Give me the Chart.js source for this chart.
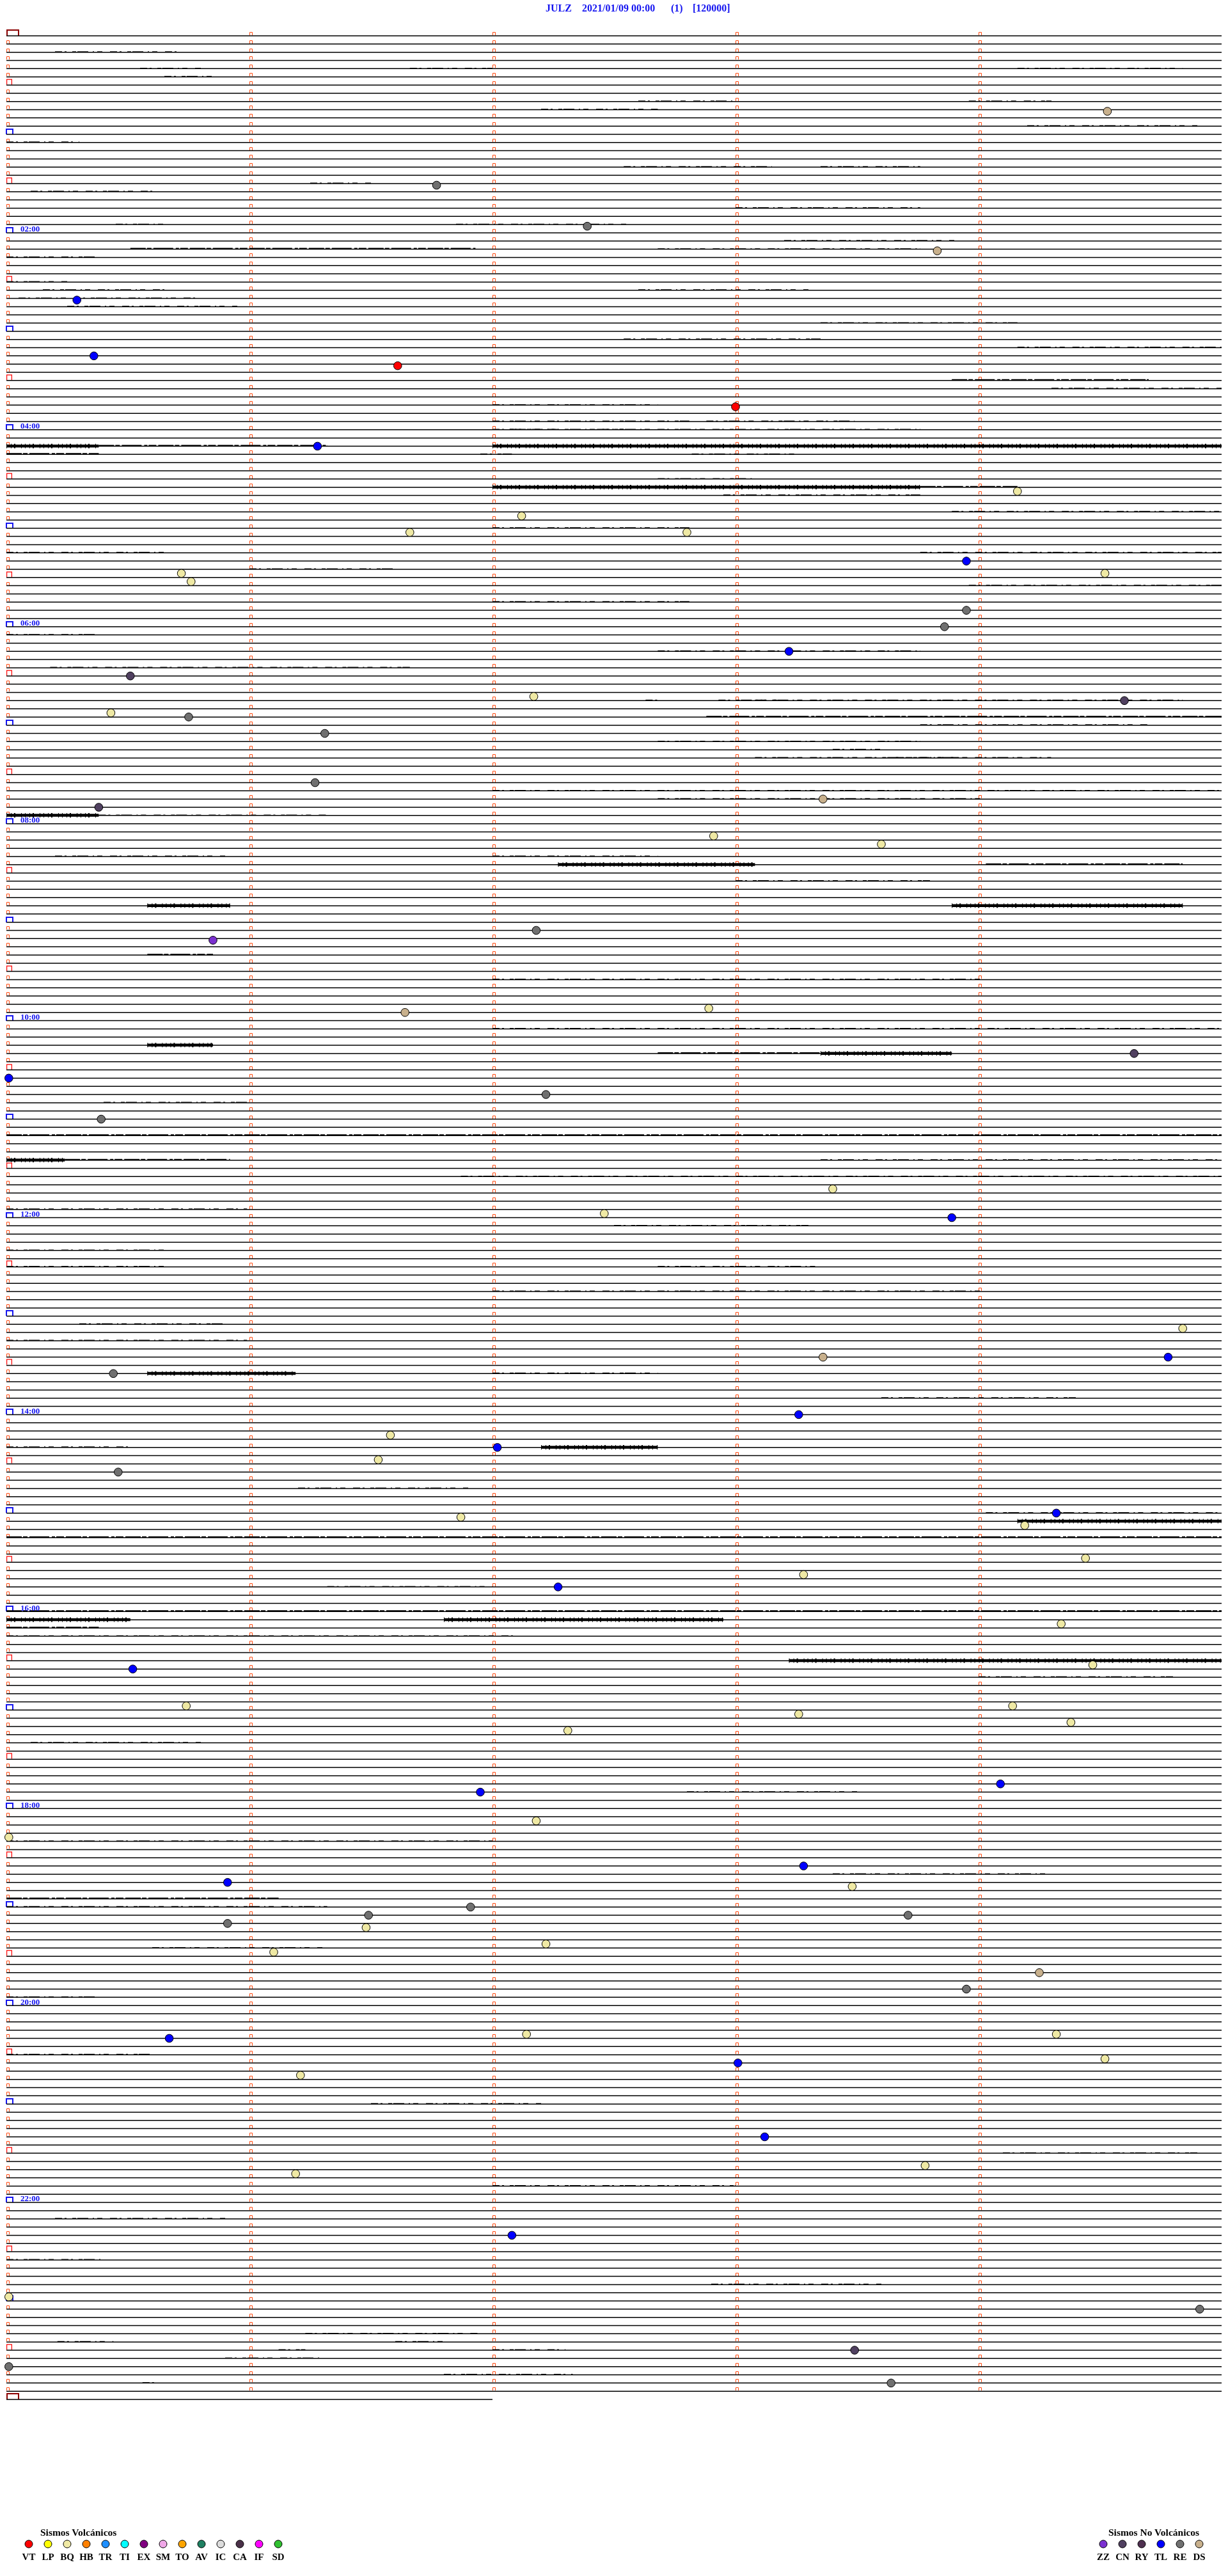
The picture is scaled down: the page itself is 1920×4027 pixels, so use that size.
<!DOCTYPE html>
<html>
<head>
<meta charset="utf-8">
<script src="https://cdn.jsdelivr.net/npm/chart.js@4.4.1/dist/chart.umd.min.js"></script>
<style>
html,body{margin:0;padding:0;background:#fff;}
body{width:1920px;height:4027px;position:relative;overflow:hidden;font-family:"Liberation Serif","Times New Roman",serif;}
#c{position:absolute;left:0;top:0;}
.t{position:absolute;top:5px;color:#1515f0;font-weight:bold;font-size:16px;line-height:16px;white-space:pre;}
.hl{position:absolute;left:32px;color:#1515f0;font-weight:bold;font-size:13px;line-height:13px;white-space:pre;}
.lh{position:absolute;color:#000;font-weight:bold;font-size:15.5px;line-height:15px;white-space:pre;}
.lb{position:absolute;color:#000;font-weight:bold;font-size:15px;line-height:15px;white-space:pre;transform:translateX(-50%);}
.dot{position:absolute;width:11px;height:11px;border:1px solid #000;border-radius:50%;transform:translate(-50%,-50%);}
</style>
</head>
<body>
<canvas id="c" width="1920" height="4027"></canvas>
<div id="overlay"></div>
<script>
// ---------------- DATA ----------------
const titleParts = ["JULZ", "2021/01/09 00:00", "(1)", "[120000]"];
const fullRows = 288;            // 24 h x 12 rows (5 minutes per row)
const minutesPerRow = 5;
const lastRowMinutes = 2;        // partial final row
const minuteMarks = [0, 1, 2, 3, 4];
const hourLabelRows = [24, 48, 72, 96, 120, 144, 168, 192, 216, 240, 264];
const hourLabels = ["02:00","04:00","06:00","08:00","10:00","12:00","14:00","16:00","18:00","20:00","22:00"];

const volcanicTypes = ["VT","LP","BQ","HB","TR","TI","EX","SM","TO","AV","IC","CA","IF","SD"];
const nonVolcanicTypes = ["ZZ","CN","RY","TL","RE","DS"];

// events: type, row (line index from 00:00), minute inside the row
const eventTypes = ["DS","RE","RE","DS","TL","TL","VT","VT","TL","BQ","BQ","BQ","BQ","TL","BQ","BQ","BQ","RE","RE","TL",
  "CN","BQ","BQ","RE","CN","RE","RE","CN","DS","BQ","BQ","ZZ","RE","DS","BQ","CN","TL","RE","RE","BQ",
  "BQ","TL","BQ","TL","DS","RE","TL","BQ","TL","BQ","RE","TL","BQ","BQ","BQ","TL","BQ","BQ","TL","BQ",
  "BQ","BQ","BQ","BQ","BQ","TL","TL","BQ","BQ","TL","TL","BQ","RE","RE","RE","RE","BQ","BQ","BQ","DS",
  "RE","TL","BQ","BQ","TL","BQ","BQ","TL","BQ","BQ","TL","BQ","RE","CN","RE","RE"];
const eventRows = [9.2,18.2,23.2,26.2,32.2,39,40.2,45.2,50,55.5,60.5,58.5,60.5,64,65.5,66.5,65.5,70,72,75,
  78,80.5,82.5,83,81,85,91,94,93,97.5,98.5,110.2,109,119,118.5,124,127,129,132,140.5,
  143.5,144,157.5,161,161,163,168,170.5,172,173.5,175,180,181.5,180.5,185.5,189,187.5,193.5,199,198.5,
  203.5,203.5,204.5,206.5,205.5,214,213,217.5,219.5,223,225,225.5,229,228,229,230,230.5,232.5,233.5,236,
  238,244,243.5,243.5,247,246.5,248.5,256,259.5,260.5,268,275.5,277,282,284,286];
const eventMinutes = [4.53,1.77,2.39,3.83,0.29,0.36,1.61,3.00,1.28,4.16,1.66,2.12,2.80,3.95,0.72,0.76,4.52,3.95,3.86,3.22,
  0.51,2.17,0.43,0.75,4.60,1.31,1.27,0.38,3.36,2.91,3.60,0.85,2.18,1.64,2.89,4.64,0.01,2.22,0.39,3.40,
  2.46,3.89,4.84,4.78,3.36,0.44,3.26,1.58,2.02,1.53,0.46,4.32,4.19,1.87,4.44,2.27,3.28,4.34,0.52,4.47,
  0.74,4.14,3.26,2.31,4.38,1.95,4.09,2.18,0.01,3.28,0.91,3.48,1.49,1.91,3.71,0.91,1.48,2.22,1.10,4.25,
  3.95,0.67,2.14,4.32,3.01,4.52,1.21,3.12,3.78,1.19,2.08,0.01,4.91,3.49,0.01,3.64];

// seismic noise bursts seen on the traces: row, start minute, end minute, intensity (1 light, 2 medium, 3 strong)
const noiseRows = [4,4,4,5,8,8,9,13,16,16,18,21,23,23,26,26,27,30,31,31,32,35,37,38,42,43,45,47,47,48,
  50,50,50,51,55,55,56,58,60,63,63,67,69,73,75,77,81,83,84,86,88,92,93,95,95,100,101,101,106,106,
  112,115,121,123,124,124,134,137,137,137,139,143,148,150,150,153,159,163,163,172,172,180,181,183,189,193,193,194,198,220,
  227,228,239,246,262,271,280,281,281,282,282,283,285,286,
  48,48,51,51,54,55,81,81,87,88,192,195,25,33,19,11,2,65,100,103,130,145,157,166,177,200,208,214,224,233,252,258,266,274];
const noiseFrom = [0.55,1.66,4.16,0.65,2.6,3.96,2.2,0,2.54,3.35,1.25,3.0,0.45,1.85,0.51,2.68,0,0,0.15,2.6,0.05,3.35,2.54,4.16,3.89,4.3,2.0,2.0,2.88,2.0,
  0,0.38,2.0,0,2.0,3.76,2.95,3.89,2.0,0,3.76,3.96,2.0,0,2.68,0.18,3.08,2.88,3.76,2.68,3.08,2.0,2.68,0,0.38,2.0,2.27,4.03,0.58,3.89,
  0.58,2.0,2.0,0.58,2.68,3.35,0,0,0.24,3.35,1.87,0,0,0,2.68,2.0,0,0.58,2.0,2.2,0,4.03,4.16,0,1.32,0,1.8,0,3.22,0,
  0,0,0,0,2.0,0,1.23,0.21,1.6,1.12,2.0,0.9,1.8,0.56,
  2.07,2.43,1.95,2.82,2.68,2.3,2.63,2.93,3.4,3.66,0,0,3.2,0.25,0.1,4.2,0.2,1.0,0.2,3.0,0.4,2.5,0.3,3.6,1.2,4.0,0.1,2.8,3.4,0.6,1.5,4.1,0.2,2.9];
const noiseTo = [0.8,2.0,4.84,0.85,3.0,4.3,2.68,0.3,3.15,3.76,1.5,3.76,0.65,2.55,1.93,3.76,0.38,0.25,0.65,3.3,0.78,4.16,3.35,5,4.7,5,2.68,2.81,3.49,3.76,
  0.38,1.32,5,0.38,3.76,4.16,3.76,5,2.81,0.65,5,5,2.81,0.38,3.76,1.66,4.84,5,4.7,3.76,4.3,5,4.03,0.38,1.32,2.68,3.08,4.84,0.92,4.84,
  0.85,4.03,5,0.85,3.35,3.89,5,0.24,0.92,5,5,0.99,0.65,0.65,3.35,4.03,0.99,1.19,2.68,2.68,0.51,5,5,5,2.0,0.51,2.95,0.38,5,2.0,
  1.12,1.32,0.38,0.6,3.0,0.4,1.94,0.44,1.8,1.23,2.3,1.3,2.33,0.62,
  2.27,2.54,2.08,3.26,3.07,3.26,2.68,3.17,3.6,3.92,5,2.1,3.9,0.95,0.6,4.9,0.7,1.6,0.9,3.8,1.0,3.3,0.9,4.4,1.9,4.8,0.8,3.5,4.3,1.3,2.2,4.9,0.9,3.6];
const noiseLevel = [1,1,1,1,1,1,1,1,1,1,1,1,1,1,2,1,1,1,1,1,1,1,1,1,2,1,1,1,1,1,
  3,2,3,2,3,2,1,1,1,1,1,1,1,1,1,1,1,2,1,1,1,1,1,3,1,1,3,2,3,3,
  2,1,1,3,2,3,2,3,2,1,1,1,1,1,1,1,1,3,1,3,1,1,3,2,1,3,3,2,3,1,
  2,1,1,1,1,1,1,1,1,1,1,1,1,1,
  1,1,1,1,1,2,1,1,1,1,2,1,1,1,1,1,1,1,1,1,1,1,1,1,1,1,1,1,1,1,1,1,1,1];

// ---------------- STYLE ----------------
const typeColors = {
  VT:"#ff0000", LP:"#ffff00", BQ:"#efe9a4", HB:"#ff8000", TR:"#1e8fff", TI:"#00ffff", EX:"#800080",
  SM:"#f0a8e8", TO:"#ffa500", AV:"#1f8062", IC:"#dcdcdc", CA:"#4a3048", IF:"#ff00ff", SD:"#30c030",
  ZZ:"#7b30d0", CN:"#504060", RY:"#4f3050", TL:"#0000ff", RE:"#707070", DS:"#c8b08c"
};
const layoutBox = {left:10, right:10, top:56, bottom:276};
const noiseStyles = {
  1: [{w:1.3, dash:[11,4,3,9,6,2,17,7,2,5,8,12], lift:0.06}],
  2: [{w:2.2, dash:[24,2,7,3,31,4,5,2,12,3], lift:0.07}],
  3: [{w:4.5, dash:[], lift:0.02},
      {w:7, dash:[1,6,1,4,2,9,1,5], lift:0.02}]
};

// ---------------- BUILD ----------------
const datasets = [];
for (let r = 0; r <= fullRows; r++) {
  const end = r === fullRows ? lastRowMinutes : minutesPerRow;
  datasets.push({data:[{x:0,y:r},{x:end,y:r}], showLine:true, borderColor:"#000", borderWidth:1.5,
    pointRadius:0, clip:false, order:3});
}
for (let i = 0; i < noiseRows.length; i++) {
  noiseStyles[noiseLevel[i]].forEach(st => {
    const y = noiseRows[i] - st.lift;
    datasets.push({data:[{x:noiseFrom[i],y},{x:noiseTo[i],y}], showLine:true,
      borderColor:"#000", borderWidth:st.w, borderDash:st.dash, borderCapStyle:"butt", pointRadius:0, clip:false, order:2});
  });
}
const usedTypes = [...new Set(eventTypes)];
usedTypes.forEach(t => {
  const pts = [];
  eventTypes.forEach((et, i) => { if (et === t) pts.push({x:eventMinutes[i], y:eventRows[i]}); });
  datasets.push({label:t, data:pts, showLine:false, pointRadius:6.3, pointHoverRadius:6.3,
    pointBackgroundColor:typeColors[t], pointBorderColor:"#000", pointBorderWidth:1, clip:false, order:1});
});

function bracket(ctx, x, yb, w, h, color, lw) {
  ctx.save();
  ctx.strokeStyle = color; ctx.lineWidth = lw;
  ctx.beginPath();
  ctx.moveTo(x + lw/2, yb);
  ctx.lineTo(x + lw/2, yb - h + lw/2);
  ctx.lineTo(x + w - lw/2, yb - h + lw/2);
  ctx.lineTo(x + w - lw/2, yb);
  ctx.stroke();
  ctx.restore();
}

const markPlugin = {
  id: "helicorderMarks",
  beforeDatasetsDraw(chart) {
    const ctx = chart.ctx, xs = chart.scales.x, ys = chart.scales.y;
    for (let r = 0; r <= fullRows; r++) {
      const yl = Math.round(ys.getPixelForValue(r));
      const x0 = Math.round(xs.getPixelForValue(0));
      if (r === 0 || r === fullRows) {
        bracket(ctx, x0, yl, 20, 10, "#8b0000", 2);
      } else if (r % 12 === 0) {
        bracket(ctx, x0 - 1, yl, 12, 9, "#1515f0", 2);
      } else if (r % 12 === 6) {
        bracket(ctx, x0, yl - 0.5, 9, 9, "#ff0000", 1.2);
      }
      if (r === fullRows) continue;
      minuteMarks.forEach(m => {
        if (m === 0 && (r % 6 === 0)) return;
        const xm = Math.round(xs.getPixelForValue(m)) + 0.5;
        ctx.save();
        ctx.strokeStyle = "#ff4a10"; ctx.lineWidth = 1;
        ctx.beginPath();
        ctx.moveTo(xm, yl - 1); ctx.lineTo(xm, yl - 5.5); ctx.lineTo(xm + 4, yl - 5.5); ctx.lineTo(xm + 4, yl - 1);
        ctx.stroke();
        ctx.restore();
      });
    }
  }
};

const chart = new Chart(document.getElementById("c"), {
  type: "scatter",
  data: {datasets},
  options: {
    responsive:false, animation:false, devicePixelRatio:1, events:[],
    layout:{padding:layoutBox},
    plugins:{legend:{display:false}, tooltip:{enabled:false}, title:{display:false}},
    scales:{
      x:{type:"linear", min:0, max:minutesPerRow, display:false},
      y:{type:"linear", min:0, max:fullRows, reverse:true, display:false}
    }
  },
  plugins:[markPlugin]
});

// ---------------- TEXT OVERLAY ----------------
const ov = document.getElementById("overlay");
function addDiv(cls, text, left, top, extra) {
  const d = document.createElement("div");
  d.className = cls; d.textContent = text;
  d.style.left = left + "px"; d.style.top = top + "px";
  if (extra) Object.assign(d.style, extra);
  ov.appendChild(d);
  return d;
}
const titleX = [853, 910, 1049, 1083];
titleParts.forEach((t, i) => addDiv("t", t, titleX[i], 5));
hourLabelRows.forEach((r, i) => {
  const y = chart.scales.y.getPixelForValue(r);
  addDiv("hl", hourLabels[i], 32, y - 12.6);
});
addDiv("lh", "Sismos Volcánicos", 63, 3950.5);
volcanicTypes.forEach((t, i) => {
  const cx = 45 + i * 30;
  addDiv("dot", "", cx, 3977, {background:typeColors[t]});
  addDiv("lb", t, cx, 3989.5);
});
addDiv("lh", "Sismos No Volcánicos", 1733, 3950.5);
nonVolcanicTypes.forEach((t, i) => {
  const cx = 1725 + i * 30;
  addDiv("dot", "", cx, 3977, {background:typeColors[t]});
  addDiv("lb", t, cx, 3989.5);
});
</script>
</body>
</html>
